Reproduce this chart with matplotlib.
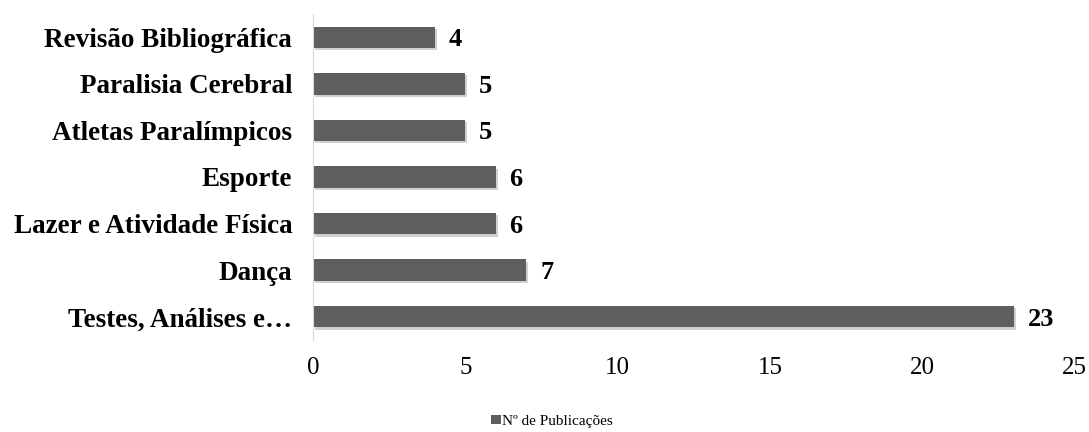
import numpy as np
import matplotlib.pyplot as plt

categorias = ["Testes, Análises e…", "Dança", "Lazer e Atividade Física", "Esporte",
              "Atletas Paralímpicos", "Paralisia Cerebral", "Revisão Bibliográfica"]
publicacoes = [23, 7, 6, 6, 5, 5, 4]
xticks = [0, 5, 10, 15, 20, 25]

plt.rcParams['font.family'] = ['Liberation Serif', 'DejaVu Serif']

fig = plt.figure(figsize=(10.89, 4.32), dpi=100)
ax = fig.add_axes([0.2874, 0.213, 0.6996, 0.7546])

y = np.arange(len(categorias))
# sombra leve
ax.barh(y - 0.05, publicacoes, height=0.46, left=0.06, color='#d0d0d0', zorder=1)
bars = ax.barh(y, publicacoes, height=0.46, color='#5e5e5e', zorder=2,
               label='Nº de Publicações')

for yi, v in zip(y, publicacoes):
    ax.text(v + 0.45, yi, str(v), va='center_baseline', ha='left',
            fontsize=19, fontweight='bold')

ax.set_yticks(y)
ax.set_yticklabels(categorias, fontsize=19.5, fontweight='bold')
ax.set_xticks(xticks)
ax.set_xticklabels([str(t) for t in xticks], fontsize=18)
ax.set_xlim(0, 25)
ax.set_ylim(-0.5, 6.5)
ax.tick_params(length=0)
ax.tick_params(axis='x', pad=12)
ax.tick_params(axis='y', pad=15)

for s in ['top', 'right', 'bottom']:
    ax.spines[s].set_visible(False)
ax.spines['left'].set_color('#d9d9d9')

fig.legend(handles=[bars], loc='center', bbox_to_anchor=(0.507, 0.025),
           frameon=False, fontsize=11, handlelength=0.6, handleheight=0.6,
           handletextpad=0.1)

fig.savefig('out.png', dpi=100)
